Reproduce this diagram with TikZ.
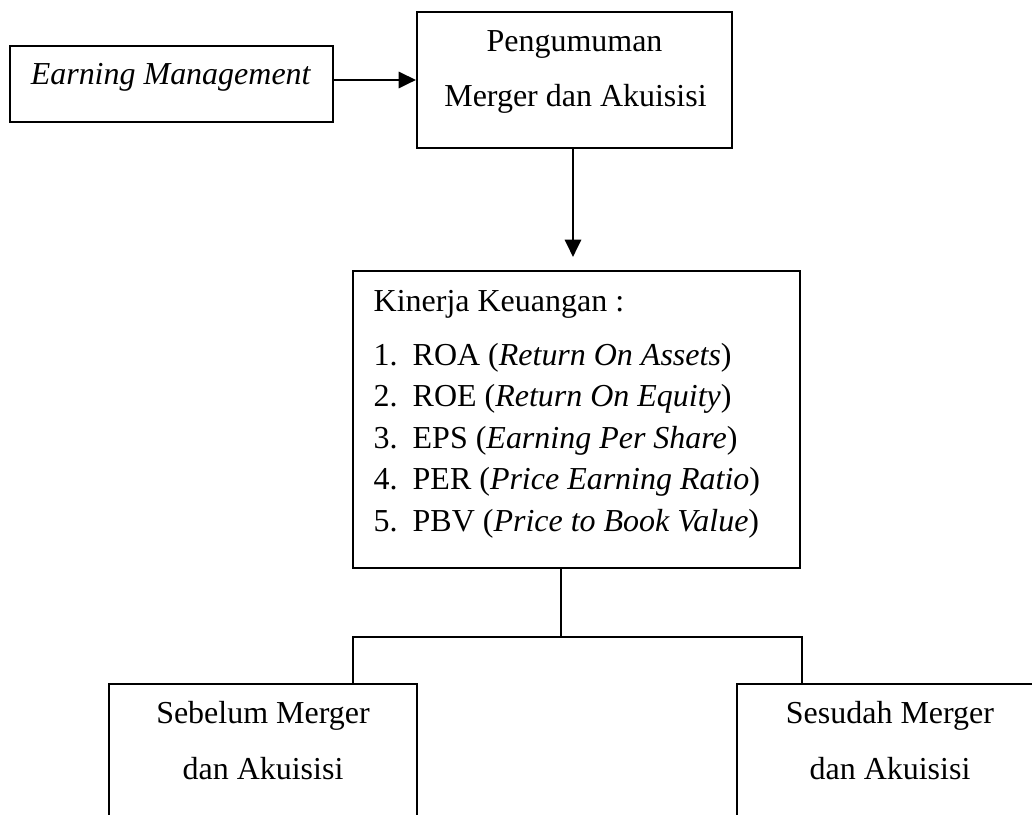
\documentclass[tikz,border=0pt]{standalone}
\usepackage{fontspec}
\setmainfont{Liberation Serif}
\usepackage{tikz}
\usetikzlibrary{arrows.meta,calc,positioning}

\begin{document}
\begin{tikzpicture}[
    box/.style={draw,line width=.6pt,inner sep=0pt},
    txt/.style={anchor=base,inner sep=0pt,font=\fontsize{9.1pt}{11pt}\selectfont},
    arr/.style={-{Triangle[length=4.9pt,width=4.6pt]},line width=.75pt}
  ]
  \useasboundingbox (0,0) rectangle (10.32,-8.15);
  \clip (0,0) rectangle (10.32,-8.15);

  % boxes
  \node[box,minimum width=3.23cm,minimum height=.76cm] (em) at (1.715,-.84){};
  \node[box,minimum width=3.15cm,minimum height=1.36cm] (ann) at (5.745,-.80){};
  \node[box,minimum width=4.47cm,minimum height=2.97cm] (kin) at (5.765,-4.195){};
  \node[box,minimum width=3.08cm,minimum height=1.9cm] (bef) at (2.63,-7.79){};
  \node[box,minimum width=3.08cm,minimum height=1.9cm] (aft) at (8.91,-7.79){};

  % texts
  \node[txt] (emtxt) at (1.71,-.85){\textit{Earning Management}};
  \node[txt] (anntxt) at (5.745,-.52){Pengumuman};
  \node[txt] (anntxtb) at (5.755,-1.07){Merger dan Akuisisi};
  \node[txt,anchor=base west] (kintxt) at (3.73,-3.12){Kinerja Keuangan :};
  \foreach \n/\t/\y in {
      1/{ROA (\textit{Return On Assets})}/-3.66,
      2/{ROE (\textit{Return On Equity})}/-4.07,
      3/{EPS (\textit{Earning Per Share})}/-4.485,
      4/{PER (\textit{Price Earning Ratio})}/-4.90,
      5/{PBV (\textit{Price to Book Value})}/-5.315}{
    \node[txt,anchor=base west] (num\n) at (3.73,\y){\n.};
    \node[txt,anchor=base west] (item\n) at (4.12,\y){\t};
  }
  \node[txt] (beftxt) at (2.63,-7.24){Sebelum Merger};
  \node[txt] (beftxtb) at (2.63,-7.80){dan Akuisisi};
  \node[txt] (afttxt) at (8.90,-7.24){Sesudah Merger};
  \node[txt] (afttxtb) at (8.90,-7.80){dan Akuisisi};

  % connectors
  \coordinate (split) at (5.61,-6.37);
  \coordinate (jl) at (3.53,-6.37);
  \coordinate (jr) at (8.02,-6.37);
  \coordinate (down) at (5.73,0);
  \draw[arr] (ann.west -| em.east) -- (ann.west);
  \draw[arr,shorten >=.13cm] (ann.south -| down) -- (kin.north -| down);
  \draw[line width=.6pt] (kin.south -| split) -- (split);
  \draw[line width=.6pt] (jl |- bef.north) -- (jl) -- (jr) -- (jr |- aft.north);
\end{tikzpicture}
\end{document}
